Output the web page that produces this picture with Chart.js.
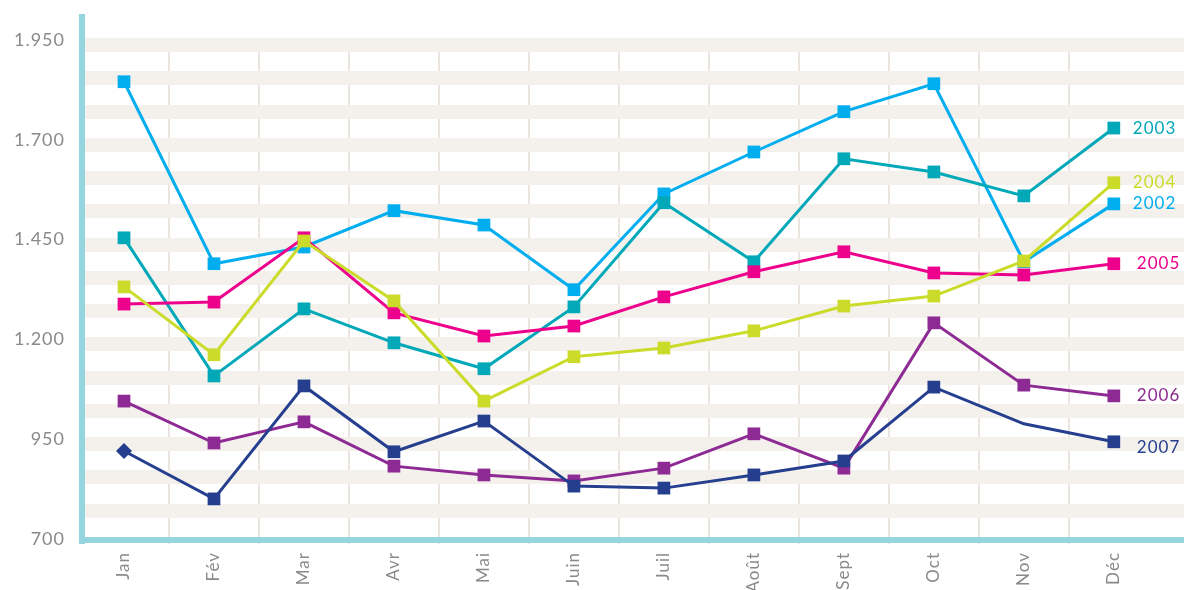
<!DOCTYPE html>
<html lang="fr">
<head>
  <meta charset="UTF-8" />
  <title>Courbes mensuelles 2002-2007</title>
  <script src="https://cdn.jsdelivr.net/npm/chart.js"></script>
  <style>
    body { margin: 0; padding: 0; background: #fff; }
    #wrap { width: 1184px; height: 590px; }
  </style>
</head>
<body>
<div id="wrap"><canvas id="chart" width="1184" height="590"></canvas></div>

<script>
const months = ['Jan', 'Fév', 'Mar', 'Avr', 'Mai', 'Juin', 'Juil', 'Août', 'Sept', 'Oct', 'Nov', 'Déc'];
const years = ['2002', '2003', '2004', '2005', '2006', '2007'];
const yTickLabels = ['700', '950', '1.200', '1.450', '1.700', '1.950'];

const v2002 = [1858, 1402, 1444, 1535, 1499, 1337, 1577, 1682, 1783, 1853, 1407, 1552];
const v2003 = [1467, 1121, 1289, 1204, 1139, 1294, 1555, 1407, 1665, 1632, 1572, 1742];
const v2004 = [1344, 1174, 1459, 1309, 1058, 1169, 1191, 1234, 1296, 1321, 1409, 1605];
const v2005 = [1301, 1306, 1467, 1279, 1221, 1246, 1319, 1382, 1432, 1379, 1374, 1402];
const v2006 = [1058, 953, 1006, 895, 873, 858, 890, 976, 890, 1254, 1098, 1071];
const v2007 = [933, 813, 1096, 931, 1008, 845, 840, 873, 908, 1093, 1001, 956];

const colors = ['#00aeef', '#00a8b8', '#cbdb2a', '#ec008c', '#8e2a93', '#253f8e'];
const drawOrder = [6, 5, 2, 3, 4, 1]; // lower = on top
const series = [v2002, v2003, v2004, v2005, v2006, v2007];

Chart.defaults.font.family = 'Lato, "Open Sans", sans-serif';

// axis lines + end labels
const decor = {
  id: 'decor',
  beforeDraw(chart) {
    chart.ctx.letterSpacing = '1px';
  },
  beforeDatasetsDraw(chart) {
    const { ctx, chartArea } = chart;
    ctx.save();
    ctx.fillStyle = '#95d5df';
    ctx.fillRect(chartArea.left, 14, 6, chartArea.bottom - 14);
    ctx.fillRect(chartArea.left, chartArea.bottom - 7, chart.width - chartArea.left, 6);
    ctx.restore();
  },
  afterDatasetsDraw(chart) {
    const { ctx } = chart;
    ctx.save();
    ctx.font = '17px Lato, sans-serif';
    ctx.textBaseline = 'middle';
    ctx.textAlign = 'left';
    chart.data.datasets.forEach((ds, i) => {
      const pt = chart.getDatasetMeta(i).data[months.length - 1];
      const dx = i >= 3 ? 23 : 19;
      const dy = i === 5 ? 6 : 0;
      ctx.fillStyle = ds.borderColor;
      ctx.fillText(ds.label, pt.x + dx, pt.y + dy);
    });
    ctx.restore();
  }
};

const datasets = series.map((vals, i) => ({
  label: years[i],
  data: vals.map((v, k) => ({ x: k, y: v })),
  borderColor: colors[i],
  backgroundColor: colors[i],
  borderWidth: 3,
  tension: 0,
  order: drawOrder[i],
  pointStyle: (c) => (i === 5 && c.dataIndex === 0 ? 'rectRot' : 'rect'),
  pointRadius: (c) => (i === 5 && c.dataIndex === 10 ? 0 : (i === 5 && c.dataIndex === 0 ? 8 : 9)),
  pointHoverRadius: 9,
  pointBorderWidth: 0
}));

new Chart(document.getElementById('chart'), {
  type: 'line',
  data: { datasets },
  plugins: [decor],
  options: {
    responsive: false,
    animation: false,
    layout: { autoPadding: false, padding: { top: 45, right: 0, bottom: 0, left: 0 } },
    plugins: { legend: { display: false }, tooltip: { enabled: false } },
    scales: {
      x: {
        type: 'linear',
        min: -0.5,
        max: 11.78,
        afterBuildTicks: (scale) => { scale.ticks = months.map((m, i) => ({ value: i })); },
        afterFit: (scale) => {
          scale.height = 46;
          scale.paddingLeft = 0;
          scale.paddingRight = 0;
        },
        border: { display: false },
        grid: {
          offset: true,
          drawTicks: false,
          lineWidth: 2,
          color: (c) => (!c.tick || c.index === 0 ? 'rgba(0,0,0,0)' : '#ebe5e0')
        },
        ticks: {
          autoSkip: false,
          minRotation: 90,
          maxRotation: 90,
          padding: 8,
          color: '#8a8a8a',
          font: { size: 17 },
          callback: (v) => months[v]
        }
      },
      y: {
        min: 700,
        max: 1950,
        afterBuildTicks: (scale) => {
          const t = [];
          for (let k = 0; k <= 15; k++) t.push({ value: 700 + k * 250 / 3 });
          scale.ticks = t;
        },
        afterFit: (scale) => { scale.width = 79; },
        border: { display: false },
        grid: {
          drawTicks: false,
          lineWidth: 14,
          color: (c) => (c.index === 0 ? 'rgba(0,0,0,0)' : '#f4f1ed')
        },
        ticks: {
          padding: 14,
          labelOffset: -5,
          color: '#8a8a8a',
          font: { size: 18 },
          callback: (v, i) => (i % 3 === 0 ? yTickLabels[i / 3] : '')
        }
      }
    }
  }
});
</script>
</body>
</html>
